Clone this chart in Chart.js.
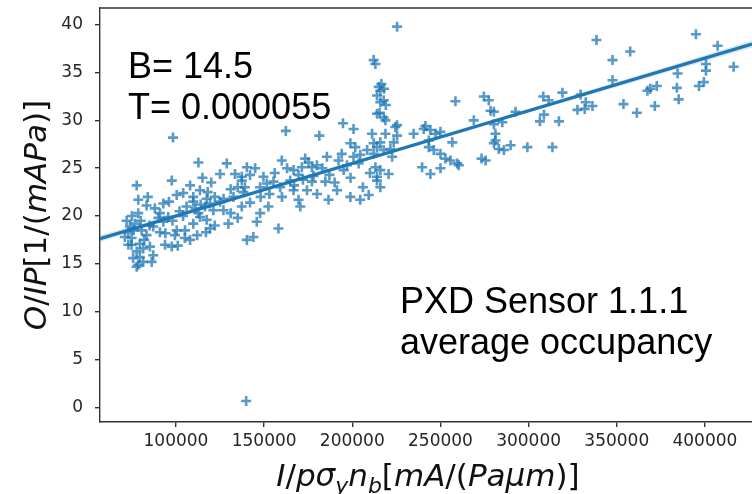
<!DOCTYPE html>
<html>
<head>
<meta charset="utf-8">
<script src="https://cdn.jsdelivr.net/npm/chart.js@4.4.0/dist/chart.umd.min.js"></script>
<style>
  html, body { margin: 0; padding: 0; background: #fff; overflow: hidden; }
  #wrap { position: relative; width: 752px; height: 494px; }
</style>
</head>
<body>
<div id="wrap"><canvas id="chart" width="752" height="494"></canvas></div>
<script>
// axis limits and ticks
const xMin = 56900, xMax = 426700;
const yMin = -1.54, yMax = 41.75;
const xTicks = [100000, 150000, 200000, 250000, 300000, 350000, 400000];
const yTicks = [0, 5, 10, 15, 20, 25, 30, 35, 40];

// fitted line B= 14.5, T= 0.000055
const lineX = [56900, 426700];
const lineY = [17.63, 37.97];

// confidence band around the fit
const bandX = [56900, 100000, 150000, 200000, 250000, 300000, 350000, 400000, 426700];
const bandUpper = [17.98, 20.22, 22.88, 25.6, 28.37, 31.18, 34.0, 36.83, 38.34];
const bandLower = [17.28, 19.78, 22.62, 25.4, 28.13, 30.82, 33.5, 36.17, 37.6];

// measurements
const ptsX = [
  77700, 78600, 83300, 78600, 76700, 73900, 72900, 71000, 74800, 74800,
  79500, 81400, 77700, 75700, 79500, 81400, 77700, 86200, 87100, 85200,
  83300, 80500, 87100, 90900, 92800, 95600, 90900, 92800, 100400, 104100,
  108000, 109800, 109800, 113600, 116500, 117400, 119300, 113600, 117400, 109800,
  105100, 100400, 108000, 97600, 93800, 99400, 112700, 125000, 126900, 129700,
  119300, 121200, 125000, 133500, 137300, 138200, 137300, 132600, 140200, 128800,
  112700, 97600, 98300, 143900, 158100, 145800, 78600, 139800,
  102000, 106000, 111000, 114000, 118000, 122000, 127000, 131000, 135000, 120000,
  115000, 104000, 98000, 96000, 90000, 88000, 85000, 82000, 76000, 73000,
  72000, 75000, 80000, 84000, 94000, 101000, 105000, 112000, 117000, 122000,
  131000, 135000,
  162300, 181300, 194700, 200700, 160000, 173300, 175200, 171400, 177100, 179900,
  185600, 166700, 169500, 164800, 192200, 197000, 198900, 201700, 204500, 200700,
  195100, 203600, 208400, 212100, 140200, 144900, 142000, 149600, 151500, 137300,
  139100, 147700, 155300, 159100, 160100, 166700, 169500, 174300, 177100, 184700,
  180000, 170500, 186500, 191300, 198900, 204500, 209300, 214000, 152400, 147700,
  142000, 148000, 153000, 156000, 163000, 167000, 172000, 178000, 183000, 187000,
  190000, 194000, 199000, 206000, 210000,
  225400, 212100, 213100, 215000, 215900, 214000, 217800, 216500, 218000, 215500,
  217800, 218800, 215900, 214000, 211200, 218800, 224400, 225400, 223500, 215900,
  214000, 217800, 221600, 222600, 212100, 213100, 215900, 220600, 214000, 215900,
  225400, 219000,
  234800, 241500, 244300, 247200, 243400, 243400, 246200, 250000, 256700, 252800,
  255700, 260400, 239600, 244300, 250000, 258500, 274600, 277400, 278400, 280300,
  268900, 280300, 285100, 281200, 280300, 283100, 286000, 289800, 273300, 281200,
  292600, 240500, 250000, 259500, 275600, 299300, 313500,
  338500, 394900, 407200, 347600, 357600, 416300, 347600, 400600, 400600, 396600,
  399400, 384500, 384100, 385100, 367400, 372700, 371600, 353800, 361400, 319200,
  308300, 311400, 329500, 332400, 336200, 327700, 331800, 308700, 306400, 317200,
  369000
];
const ptsY = [
  23.2, 21.7, 21.1, 20.3, 19.2, 18.9, 18.3, 17.8, 17.7, 17.0,
  17.1, 16.6, 16.3, 15.6, 15.7, 15.2, 14.7, 15.2, 15.9, 16.8,
  18.0, 18.5, 18.9, 18.3, 19.4, 19.9, 20.3, 21.3, 22.2, 22.4,
  23.2, 22.0, 21.5, 22.7, 21.0, 21.8, 21.3, 19.9, 19.6, 19.2,
  18.5, 18.5, 17.5, 16.8, 17.0, 18.0, 20.3, 21.5, 20.6, 19.2,
  18.7, 20.6, 24.4, 24.4, 24.1, 22.5, 21.0, 22.0, 17.5, 25.5,
  25.6, 23.7, 28.2, 17.8, 18.7, 19.4, 14.9, 0.66,
  20.5, 21.0, 20.8, 21.2, 22.5, 22.0, 21.8, 22.8, 23.0, 23.5,
  24.0, 20.0, 19.5, 21.5, 19.8, 20.8, 19.0, 17.5, 18.5, 17.0,
  19.5, 20.0, 19.5, 22.0, 18.2, 16.9, 17.7, 18.0, 18.3, 19.0,
  20.3, 19.8,
  28.9, 28.4, 29.7, 29.1, 25.8, 26.0, 25.6, 25.1, 25.1, 25.3,
  26.2, 24.8, 24.3, 23.7, 25.8, 25.3, 27.6, 27.2, 26.4, 26.2,
  24.8, 25.5, 26.9, 27.6, 25.1, 25.0, 24.3, 24.1, 23.4, 23.7,
  23.0, 23.0, 23.6, 23.0, 22.0, 22.7, 21.7, 22.7, 23.6, 23.6,
  22.3, 21.0, 21.7, 22.7, 22.0, 21.7, 22.2, 23.7, 21.0, 20.3,
  21.4, 22.0, 22.3, 24.5, 25.0, 23.2, 23.8, 24.2, 25.0, 24.3,
  23.5, 26.5, 24.0, 23.0, 24.5,
  39.8, 36.3, 35.9, 33.5, 33.1, 32.6, 32.1, 33.8, 33.3, 30.8,
  30.3, 30.0, 31.9, 30.7, 28.6, 28.6, 29.3, 28.4, 27.7, 27.7,
  27.2, 26.9, 27.0, 26.2, 26.5, 25.1, 24.8, 24.4, 24.1, 23.0,
  29.5, 31.6,
  28.6, 29.4, 29.0, 28.6, 27.9, 27.2, 26.9, 26.5, 27.7, 26.0,
  25.8, 25.3, 25.1, 24.4, 25.0, 32.0, 32.5, 32.1, 31.0, 30.9,
  30.0, 29.6, 29.8, 28.6, 27.6, 27.0, 26.9, 27.4, 26.0, 27.9,
  30.9, 29.1, 28.8, 25.5, 25.8, 27.2, 27.2,
  38.4, 39.0, 37.8, 36.3, 37.2, 35.6, 34.2, 35.9, 35.2, 33.6,
  34.0, 34.9, 33.4, 32.2, 33.1, 33.6, 31.5, 31.7, 30.8, 32.9,
  32.5, 32.1, 32.7, 31.9, 31.5, 31.1, 31.2, 30.6, 29.9, 29.9,
  33.3
];

const noteLeft = ["B= 14.5", "T= 0.000055"];
const noteRight = ["PXD Sensor 1.1.1", "average occupancy"];

// label pieces: n = upright, i = italic, s = italic subscript
const xLabel = [["I", "i"], ["/", "n"], ["pσ", "i"], ["y", "s"], ["n", "i"], ["b", "s"], ["[", "n"], ["mA", "i"], ["/(", "n"], ["Paμm", "i"], [")]", "n"]];
const yLabel = [["O", "i"], ["/", "n"], ["IP", "i"], ["[1/(", "n"], ["mAPa", "i"], [")]", "n"]];

const BLUE = "#1f77b4";
const SPINE = "#333";
const TICKFONT = { family: "'DejaVu Sans'", size: 17 };

function pieceFont(kind, size) {
  if (kind === "n") return `${size}px 'DejaVu Sans'`;
  if (kind === "s") return `oblique ${Math.round(size * 0.7)}px 'DejaVu Sans'`;
  return `oblique ${size}px 'DejaVu Sans'`;
}

function drawMath(ctx, pieces, size) {
  let w = 0;
  pieces.forEach(([t, k]) => { ctx.font = pieceFont(k, size); w += ctx.measureText(t).width; });
  let x = -w / 2;
  pieces.forEach(([t, k]) => {
    ctx.font = pieceFont(k, size);
    ctx.fillText(t, x, k === "s" ? size * 0.22 : 0);
    x += ctx.measureText(t).width;
  });
}

const decor = {
  id: "decor",
  afterDraw(chart) {
    const ctx = chart.ctx, a = chart.chartArea;
    ctx.save();
    // top spine (the right spine falls outside the picture)
    ctx.strokeStyle = SPINE;
    ctx.lineWidth = 1.4;
    ctx.beginPath();
    ctx.moveTo(a.left, a.top);
    ctx.lineTo(a.right, a.top);
    ctx.stroke();

    ctx.fillStyle = "#000";
    ctx.textAlign = "left";
    ctx.textBaseline = "alphabetic";
    ctx.font = "36px 'Liberation Sans', Arial, sans-serif";
    noteLeft.forEach((t, i) => ctx.fillText(t, a.left + 28, a.top + 70 + i * 41));
    noteRight.forEach((t, i) => ctx.fillText(t, a.left + 300, a.top + 305 + i * 41));

    ctx.fillStyle = "#111";
    ctx.save();
    ctx.translate(428, 486);
    drawMath(ctx, xLabel, 31);
    ctx.restore();
    ctx.save();
    ctx.translate(46, (a.top + a.bottom) / 2);
    ctx.rotate(-Math.PI / 2);
    drawMath(ctx, yLabel, 31);
    ctx.restore();
    ctx.restore();
  }
};

new Chart(document.getElementById("chart"), {
  type: "scatter",
  data: {
    datasets: [
      {
        type: "line",
        data: lineX.map((x, i) => ({ x, y: lineY[i] })),
        borderColor: BLUE,
        borderWidth: 3.2,
        pointRadius: 0,
        order: 0
      },
      {
        type: "line",
        data: bandX.map((x, i) => ({ x, y: bandUpper[i] })),
        borderWidth: 0,
        pointRadius: 0,
        backgroundColor: "rgba(31,119,180,0.18)",
        fill: "+1",
        order: 1
      },
      {
        type: "line",
        data: bandX.map((x, i) => ({ x, y: bandLower[i] })),
        borderWidth: 0,
        pointRadius: 0,
        fill: false,
        order: 1
      },
      {
        data: ptsX.map((x, i) => ({ x, y: ptsY[i] })),
        pointStyle: "cross",
        pointRadius: 5,
        pointBorderWidth: 2.6,
        borderColor: "rgba(31,119,180,0.75)",
        backgroundColor: "rgba(31,119,180,0.75)",
        order: 2
      }
    ]
  },
  options: {
    responsive: false,
    animation: false,
    devicePixelRatio: 1,
    layout: { autoPadding: false, padding: { top: 8, right: 0, left: 0, bottom: 0 } },
    plugins: { legend: { display: false }, tooltip: { enabled: false } },
    scales: {
      x: {
        type: "linear",
        min: xMin,
        max: xMax,
        afterFit: (s) => { s.height = 72; s.paddingLeft = 0; s.paddingRight = 0; },
        afterBuildTicks: (s) => { s.ticks = xTicks.map((v) => ({ value: v })); },
        ticks: { font: TICKFONT, color: "#262626", padding: 4, maxRotation: 0, autoSkip: false, callback: (v) => String(v) },
        grid: { drawOnChartArea: false, drawTicks: true, tickLength: 5, color: SPINE, lineWidth: 1.4 },
        border: { display: true, color: SPINE, width: 1.4 }
      },
      y: {
        type: "linear",
        min: yMin,
        max: yMax,
        afterFit: (s) => { s.width = 100; s.paddingTop = 0; s.paddingBottom = 0; },
        afterBuildTicks: (s) => { s.ticks = yTicks.map((v) => ({ value: v })); },
        ticks: { font: TICKFONT, color: "#262626", padding: 12, callback: (v) => String(v) },
        grid: { drawOnChartArea: false, drawTicks: true, tickLength: 5, color: SPINE, lineWidth: 1.4 },
        border: { display: true, color: SPINE, width: 1.4 }
      }
    }
  },
  plugins: [decor]
});
</script>
</body>
</html>
